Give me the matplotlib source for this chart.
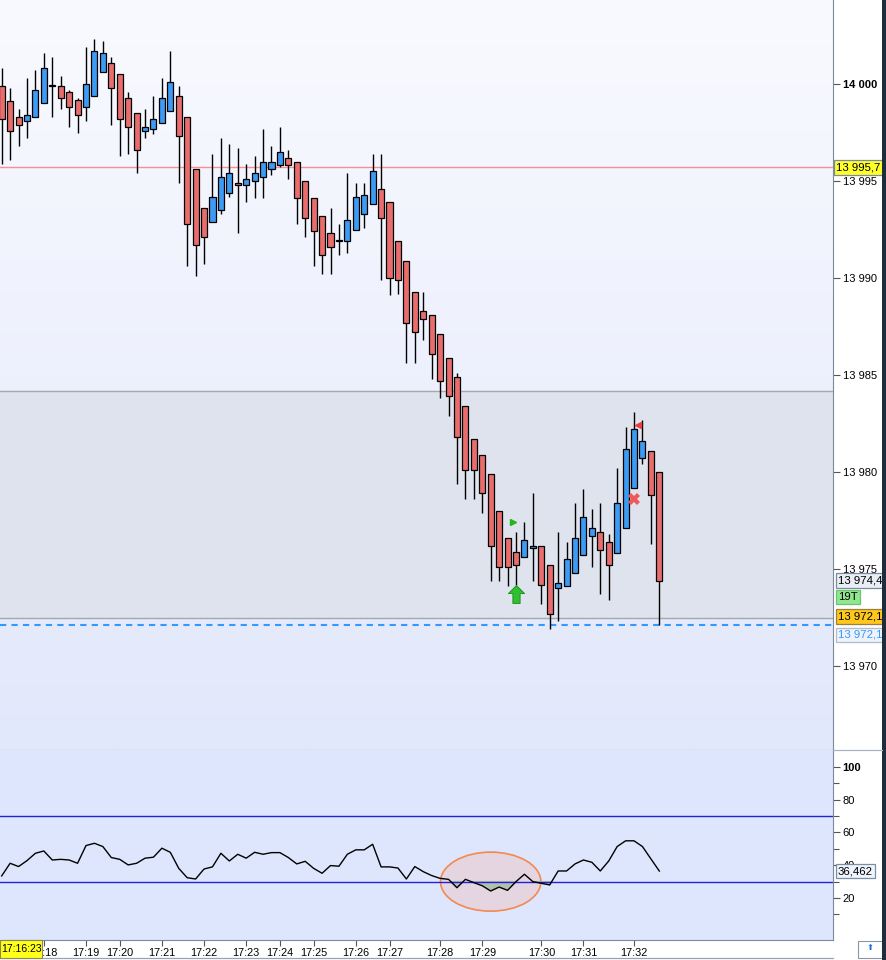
import matplotlib
matplotlib.use("Agg")
import matplotlib.pyplot as plt
import matplotlib.transforms as mtransforms
import numpy as np
from matplotlib.lines import Line2D
from matplotlib.patches import Ellipse, Rectangle
from matplotlib.path import Path

plt.rcParams['font.family'] = ['Liberation Sans', 'DejaVu Sans']

# %% ==========================================================================
# Data (19-tick candles)
# =============================================================================
opens = [13999.9, 13999.1, 13998.3, 13998.1, 13998.3, 13999.0, 13999.9, 13999.9, 13999.6, 13999.2,
         13998.8, 13999.4, 14000.6, 14001.1, 14000.5, 13999.3, 13998.5, 13997.6, 13997.7, 13998.0,
         13998.6, 13999.4, 13998.3, 13995.6, 13993.6, 13992.9, 13993.5, 13994.4, 13994.9, 13994.8,
         13995.0, 13995.2, 13995.6, 13995.8, 13996.2, 13996.0, 13995.0, 13994.1, 13993.2, 13992.3,
         13991.9, 13991.9, 13992.5, 13993.3, 13993.8, 13994.6, 13993.9, 13991.9, 13990.9, 13989.3,
         13988.3, 13988.1, 13987.1, 13985.9, 13984.9, 13983.4, 13981.7, 13980.9, 13979.9, 13978.0,
         13976.6, 13975.9, 13975.6, 13976.1, 13976.2, 13975.2, 13974.0, 13974.1, 13974.8, 13975.7,
         13976.7, 13976.9, 13976.4, 13975.8, 13977.1, 13979.2, 13980.7, 13981.1, 13980.0]
highs = [14000.8, 13999.8, 13998.7, 14000.3, 14000.7, 14001.6, 14001.4, 14000.4, 13999.7, 13999.3,
         14001.9, 14002.3, 14002.2, 14001.4, 14000.5, 13999.6, 13998.5, 13998.7, 13999.4, 14000.3,
         14001.7, 13999.9, 13998.3, 13995.6, 13993.6, 13996.4, 13997.2, 13996.9, 13996.7, 13995.9,
         13996.3, 13997.7, 13996.8, 13997.8, 13996.6, 13996.0, 13995.0, 13994.1, 13993.2, 13993.6,
         13992.8, 13995.4, 13994.9, 13994.9, 13996.4, 13996.4, 13993.9, 13991.9, 13990.9, 13989.3,
         13989.3, 13988.1, 13987.1, 13985.9, 13985.1, 13983.4, 13981.7, 13980.9, 13979.9, 13978.0,
         13976.6, 13976.9, 13977.4, 13978.9, 13976.2, 13975.2, 13976.9, 13976.4, 13978.4, 13979.1,
         13978.1, 13978.4, 13976.8, 13980.2, 13982.3, 13983.1, 13982.7, 13981.1, 13980.0]
lows = [13995.9, 13996.1, 13996.8, 13997.2, 13998.3, 13999.0, 13998.3, 13998.7, 13997.8, 13997.5,
        13998.1, 13999.4, 14000.6, 13997.9, 13996.3, 13996.4, 13995.4, 13997.2, 13997.4, 13998.0,
        13998.6, 13994.9, 13990.6, 13990.1, 13990.7, 13992.9, 13993.3, 13994.2, 13992.3, 13993.9,
        13994.1, 13994.1, 13995.3, 13995.7, 13995.1, 13992.8, 13992.1, 13990.6, 13990.2, 13990.2,
        13991.2, 13991.3, 13992.5, 13992.6, 13993.8, 13989.9, 13989.1, 13989.2, 13985.6, 13985.6,
        13986.8, 13984.8, 13983.8, 13982.9, 13979.4, 13978.6, 13978.6, 13977.9, 13974.4, 13974.4,
        13974.1, 13974.2, 13975.6, 13974.4, 13973.2, 13971.9, 13972.3, 13974.1, 13974.8, 13975.7,
        13975.1, 13973.7, 13973.4, 13975.8, 13977.1, 13979.2, 13980.4, 13976.3, 13972.1]
closes = [13998.2, 13997.6, 13997.9, 13998.4, 13999.7, 14000.8, 13999.9, 13999.3, 13998.8, 13998.4,
          14000.0, 14001.7, 14001.6, 13999.8, 13998.2, 13997.8, 13996.6, 13997.8, 13998.2, 13999.3,
          14000.1, 13997.3, 13992.8, 13991.7, 13992.1, 13994.2, 13995.2, 13995.4, 13994.8, 13995.1,
          13995.4, 13996.0, 13996.0, 13996.5, 13995.8, 13994.1, 13993.1, 13992.4, 13991.2, 13991.6,
          13991.9, 13993.0, 13994.2, 13994.3, 13995.5, 13993.1, 13990.0, 13989.9, 13987.7, 13987.2,
          13987.9, 13986.1, 13984.7, 13983.9, 13981.8, 13980.1, 13980.1, 13978.9, 13976.2, 13975.1,
          13975.1, 13975.2, 13976.5, 13976.2, 13974.2, 13972.7, 13974.3, 13975.5, 13976.6, 13977.7,
          13977.1, 13976.0, 13975.2, 13978.4, 13981.2, 13982.2, 13981.6, 13978.8, 13974.4]

rsi = [33.5, 41.2, 39.2, 42.8, 47.3, 48.7, 43.2, 43.6, 43.2, 41.2,
       52.0, 53.4, 51.4, 44.7, 43.6, 40.2, 41.2, 44.3, 44.9, 50.4,
       47.9, 38.1, 32.4, 31.6, 37.7, 39.0, 47.3, 42.6, 46.7, 44.3,
       47.9, 46.7, 47.7, 47.7, 44.7, 40.8, 42.4, 38.1, 35.1, 39.8,
       39.4, 46.7, 49.4, 49.4, 52.8, 39.0, 39.0, 38.3, 31.6, 39.2,
       36.1, 33.7, 32.0, 31.4, 26.3, 31.4, 29.4, 27.5, 24.3, 26.7,
       24.7, 30.0, 34.5, 30.0, 29.0, 28.0, 36.5, 36.5, 40.8, 43.2,
       41.8, 36.5, 42.6, 51.4, 54.9, 54.9, 51.4, 43.9, 36.462]

time_idx = [5, 10, 14, 19, 24, 29, 33, 37, 42, 46, 52, 57, 64, 69, 75]
time_labels = ['17:18', '17:19', '17:20', '17:21', '17:22', '17:23', '17:24', '17:25',
               '17:26', '17:27', '17:28', '17:29', '17:30', '17:31', '17:32']

price_ticks = [13970, 13975, 13980, 13985, 13990, 13995, 14000]
rsi_ticks = [20, 40, 60, 80, 100]

level_resist = 13995.7
zone_top = 13984.2
zone_bottom = 13972.45
session_low = 13972.1
rsi_upper = 70
rsi_lower = 30

# signals
long_tri_x, long_tri_y = [60.6], [13977.4]
short_tri_x, short_tri_y = [75.5], [13982.4]
exit_x, exit_y = [75.0], [13978.6]
entry_x, entry_y = [61.0], [13973.7]

# %% ==========================================================================
# Figure / axes
# =============================================================================
W, H = 887, 960
fig = plt.figure(figsize=(W / 100, H / 100), dpi=100, facecolor='white')
ax = fig.add_axes([0, 210 / H, 833 / W, 750 / H])
ax2 = fig.add_axes([0, 20.5 / H, 833 / W, 189.5 / H], sharex=ax)

xmin, xmax = -0.2, 98.6
ymin, ymax = 13965.67, 14004.33

# background gradient
top = np.array([249, 250, 255]) / 255
bot = np.array([226, 232, 251]) / 255
t = np.linspace(0, 1, 256)[:, None, None]
grad = top * (1 - t) + bot * t
ax.imshow(grad, extent=[xmin, xmax, ymin, ymax], aspect='auto', zorder=0,
          interpolation='bilinear')
ax.axhspan(zone_bottom, zone_top, color='#dfe3ee', zorder=0.5)
ax.axhline(zone_top, color='#a5a8ae', lw=1.0, zorder=0.6)
ax.axhline(zone_bottom, color='#a5a8ae', lw=1.0, zorder=0.6)
ax.axhline(level_resist, color='#ff8f8f', lw=1.0, zorder=0.7)
ax.axhline(session_low, color='#3399ff', lw=1.5, ls=(0, (3, 2.5)), zorder=0.7)

# candles
x = np.arange(len(opens))
o = np.array(opens)
c = np.array(closes)
up = c >= o
colors = np.where(up, '#3d9bf3', '#ea6d6d')
body_bot = np.minimum(o, c)
body_h = np.maximum(np.abs(c - o), 0.06)
ax.vlines(x, lows, highs, color='black', lw=1.0, zorder=2)
ax.bar(x, body_h, bottom=body_bot, width=0.72, color=colors, edgecolor='black',
       linewidth=0.9, zorder=3)

# signal markers
ax.plot(long_tri_x, long_tri_y, marker='>', color='#22b522', ms=5, ls='none', zorder=4)
ax.plot(short_tri_x, short_tri_y, marker='<', color='#e84040', ms=5, ls='none', zorder=4)
ax.plot(exit_x, exit_y, marker='X', color='#ee5a5a', ms=8, mew=0, ls='none', zorder=4)
arrow = Path([(0, 1), (-0.9, 0.1), (-0.4, 0.1), (-0.4, -1), (0.4, -1), (0.4, 0.1),
              (0.9, 0.1), (0, 1)])
ax.plot(entry_x, entry_y, marker=arrow, color='#2fc02f', mec='#1a8a1a', mew=0.6,
        ms=13, ls='none', zorder=4)

ax.set_xlim(xmin, xmax)
ax.set_ylim(ymin, ymax)
for s in ['top', 'left']:
    ax.spines[s].set_visible(False)
ax.spines['right'].set_color('#7a8a9a')
ax.spines['bottom'].set_color('#8899aa')
ax.yaxis.tick_right()
ax.set_yticks(price_ticks)
ax.set_yticklabels([f'{p:,}'.replace(',', ' ') for p in price_ticks])
ax.get_yticklabels()[-1].set_fontweight('bold')
ax.get_yticklabels()[-1].set_fontsize(9)
ax.tick_params(axis='y', direction='out', length=5, width=0.8, color='#555555',
               labelsize=8, pad=2)
ax.tick_params(axis='x', bottom=False, labelbottom=False)

# price label boxes on the right
trans = mtransforms.blended_transform_factory(ax.transAxes, ax.transData)


def price_box(axis, tr, y, text, fc, ec, tc='black', xpos=1.006):
    axis.text(xpos, y, text, transform=tr, ha='left', va='center', fontsize=8.2,
              color=tc, clip_on=False, zorder=10,
              bbox=dict(boxstyle='square,pad=0.2', fc=fc, ec=ec, lw=0.9))


price_box(ax, trans, level_resist, '13 995,7', '#ffff2e', '#7a8a9a', xpos=1.004)
price_box(ax, trans, closes[-1], '13 974,4', '#e9edf5', '#7a8a9a')
price_box(ax, trans, 13973.55, '19T', '#8fe88f', '#6cc46c')
price_box(ax, trans, 13972.55, '13 972,1', '#ffc81a', '#9a8040')
price_box(ax, trans, 13971.6, '13 972,1', '#eef2fa', '#b0bccc', tc='#3399ff')

# %% ==========================================================================
# RSI panel
# =============================================================================
ax2.set_facecolor('#dde6fc')
ax2.add_patch(Ellipse((58.0, 30), width=11.9, height=36, fc=(0.93, 0.78, 0.80, 0.55),
                      ec='#f4884f', lw=1.2, zorder=1))
r = np.array(rsi)
ax2.fill_between(x, r, rsi_lower, where=r < rsi_lower, interpolate=True,
                 color='#b3c0ae', zorder=2)
ax2.axhline(rsi_upper, color='#2222dd', lw=1.0, zorder=2)
ax2.axhline(rsi_lower, color='#2222dd', lw=1.0, zorder=2)
ax2.plot(x, r, color='black', lw=1.0, zorder=3)

ax2.set_ylim(-5.3, 110.3)
ax2.set_xlim(xmin, xmax)
for s in ['top', 'left']:
    ax2.spines[s].set_visible(False)
ax2.spines['right'].set_color('#7a8a9a')
ax2.spines['bottom'].set_color('#7a8a9a')
ax2.yaxis.tick_right()
ax2.set_yticks(rsi_ticks)
ax2.set_yticks([10, 30, 50, 70, 90], minor=True)
ax2.set_yticklabels([str(v) for v in rsi_ticks])
ax2.get_yticklabels()[-1].set_fontweight('bold')
ax2.get_yticklabels()[-1].set_fontsize(9)
ax2.tick_params(axis='y', which='both', direction='out', length=5, width=0.8,
                color='#555555', labelsize=8, pad=2)
ax2.tick_params(axis='y', which='minor', length=4)
ax2.set_xticks(time_idx)
ax2.set_xticklabels(time_labels)
ax2.tick_params(axis='x', direction='out', length=4, width=0.8, color='#555555',
                labelsize=7.8, pad=2)

trans2 = mtransforms.blended_transform_factory(ax2.transAxes, ax2.transData)
price_box(ax2, trans2, rsi[-1], '36,462', '#f0f4fc', '#7a8fa0')

# %% ==========================================================================
# Frame details
# =============================================================================
# current-time box over the start of the time axis
fig.patches.append(Rectangle((0, 2 / H), 42 / W, 18 / H, fc='#ffff1a', ec='#8a8a50',
                             lw=0.8, transform=fig.transFigure, zorder=5))
fig.text(1.5 / W, 11 / H, '17:16:23', fontsize=7.5, ha='left', va='center', zorder=6)
fig.lines.append(Line2D([833 / W, 882 / W], [210 / H, 210 / H], color='#aab4c0', lw=0.9,
                        transform=fig.transFigure))
fig.lines.append(Line2D([0, 833 / W], [2 / H, 2 / H], color='#9aa4b0', lw=0.9,
                        transform=fig.transFigure))
fig.patches.append(Rectangle((858 / W, 2 / H), 24 / W, 17 / H, fc='white', ec='#8a96a4',
                             lw=0.8, transform=fig.transFigure))
fig.text(870 / W, 12 / H, '\u2b06', fontsize=6, color='#1f6fd0', ha='center', va='center')
fig.patches.append(Rectangle((882.5 / W, 0), 4.5 / W, 1, fc='#1d2d3d', ec='none',
                             transform=fig.transFigure))

fig.savefig('out.png', dpi=100)
